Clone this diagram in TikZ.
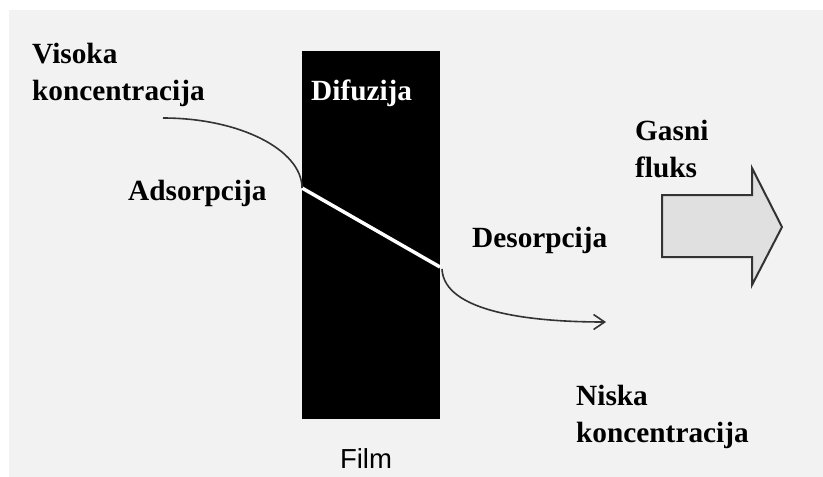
\documentclass[tikz,border=0pt]{standalone}
\usepackage{fontspec}
\setmainfont{Liberation Serif}
\setsansfont{Liberation Sans}
\usepackage{xcolor}
\usetikzlibrary{arrows.meta}
\definecolor{bggray}{HTML}{F2F2F2}
\definecolor{fluxgray}{HTML}{E0E0E0}
\definecolor{linegray}{HTML}{333333}

\begin{document}
\begin{tikzpicture}[x=1pt, y=-1pt,
    lbl/.style={font=\bfseries\fontsize{29.3}{37}\selectfont, inner sep=0,
                align=left, anchor=base west},
    flow/.style={draw=linegray, line width=1.6pt},
    >={Straight Barb[length=11pt,width=15pt]}]
  \useasboundingbox (0,0) rectangle (823,477);
  \fill[bggray] (9,10) rectangle (823,477);
  % film
  \node[fill=black, minimum width=138pt, minimum height=368pt, inner sep=0,
        anchor=north west] (film) at (302,51) {};
  \coordinate (ads) at (302,188);
  \coordinate (des) at (440,267);
  \draw[white, line width=3.5pt] (ads) -- (des);
  % labels (two-line ones sit on their last line)
  \node[lbl] (vis) at (32,100) {Visoka\\koncentracija};
  \node[lbl, text=white] (dif) at (311,100) {Difuzija};
  \node[lbl] (adsl) at (128,200) {Adsorpcija};
  \node[lbl] (desl) at (472,247) {Desorpcija};
  \node[lbl] (gas) at (635,177) {Gasni\\fluks};
  \node[lbl] (nis) at (576,442) {Niska\\koncentracija};
  \node[font=\sffamily\fontsize{27.5}{30}\selectfont, inner sep=0, anchor=base]
       (filml) at (366,468) {Film};
  % flow in and out
  \coordinate (in) at (163,118);
  \coordinate (out) at (606,322);
  \draw[flow] (in) .. controls (240,118) and (302,150) .. (ads);
  \draw[flow, ->] (des) ++(2,2) .. controls (444,312) and (530,322) .. (out);
  % gas flux
  \draw[draw=linegray, fill=fluxgray, line width=2pt, line join=miter]
    (662,195) -- (752,195) -- (752,168) -- (782,227) -- (752,285)
    -- (752,257) -- (662,257) -- cycle;
\end{tikzpicture}
\end{document}
